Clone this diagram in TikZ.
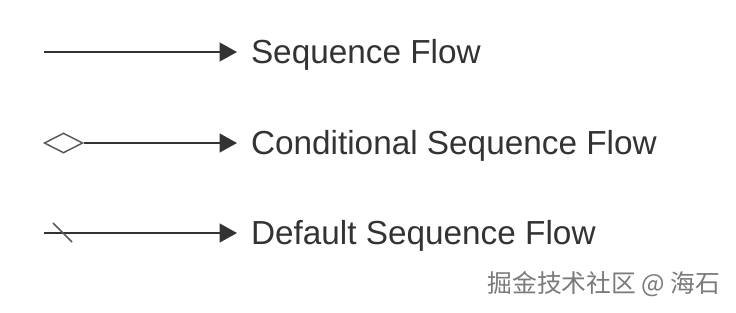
\documentclass[tikz,border=0pt]{standalone}
\usepackage{fontspec}
\setmainfont{Liberation Sans}
\newfontfamily\cjk{Noto Sans CJK SC}
\usetikzlibrary{arrows.meta,calc,positioning,shapes.geometric}
\definecolor{ink}{HTML}{333333}
\definecolor{soft}{HTML}{5A5A5A}
\definecolor{mark}{HTML}{7A7A7A}
\tikzset{flow/.style={draw=ink,line width=1.6pt,-{Triangle[length=13pt,width=14pt]},shorten >=10.5pt},
  flowlabel/.style={anchor=west,inner sep=0pt,outer sep=0pt,text=ink,text height=17pt,text depth=0pt,
    font=\fontsize{25}{30}\selectfont},
  cond/.style={diamond,draw=soft,fill=white,line width=1.1pt,minimum width=29pt,minimum height=15pt,inner sep=0pt},
  slash/.style={draw=soft,line width=1.1pt},
  watermark/.style={text=mark,font=\cjk\fontsize{18.6}{20}\selectfont,inner sep=0pt}}
\begin{document}
\begin{tikzpicture}[x=.75pt,y=-.75pt]
\useasboundingbox (0,0) rectangle (736,312);
% sequence flow
\coordinate (s1) at (44,52);
\node[flowlabel] (t1) at (251,52) {Sequence Flow};
\draw[flow] (s1) -- (t1);
% conditional sequence flow
\node[cond] (s2) at (63.5,143) {};
\node[flowlabel] (t2) at (251,143) {Conditional Sequence Flow};
\draw[flow] (s2.east) -- (t2);
% default sequence flow
\coordinate (s3) at (44,233);
\node[flowlabel] (t3) at (251,233) {Default Sequence Flow};
\draw[flow] (s3) -- (t3);
\draw[slash] ($(s3)+(9,-10)$) -- ($(s3)+(28,9)$);
\node[watermark] (wm) at (604,284) {掘金技术社区 @ 海石};
\end{tikzpicture}
\end{document}
